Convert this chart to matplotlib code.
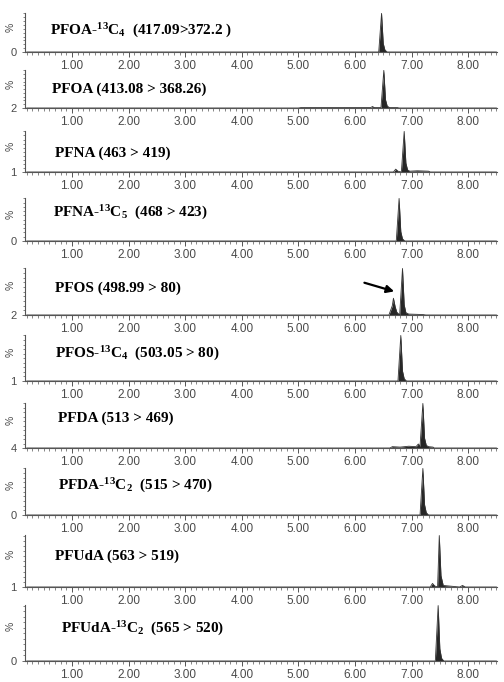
import matplotlib
matplotlib.use('Agg')
import matplotlib.pyplot as plt
from matplotlib.ticker import MultipleLocator

plt.rcParams['font.family'] = ['Liberation Sans', 'DejaVu Sans']
plt.rcParams['mathtext.fontset'] = 'custom'
plt.rcParams['mathtext.rm'] = 'Liberation Serif:bold'
plt.rcParams['mathtext.it'] = 'Liberation Serif:bold'
plt.rcParams['mathtext.bf'] = 'Liberation Serif:bold'

titles = [
    r'PFOA-$^{13}$C$_4$  (417.09>372.2 )',
    'PFOA (413.08 > 368.26)',
    'PFNA (463 > 419)',
    r'PFNA-$^{13}$C$_5$  (468 > 423)',
    'PFOS (498.99 > 80)',
    r'PFOS-$^{13}$C$_4$  (503.05 > 80)',
    'PFDA (513 > 469)',
    r'PFDA-$^{13}$C$_2$  (515 > 470)',
    'PFUdA (563 > 519)',
    r'PFUdA-$^{13}$C$_2$  (565 > 520)',
]
base_labels = ['0', '2', '1', '0', '2', '1', '4', '0', '1', '0']
x_ticks = [1, 2, 3, 4, 5, 6, 7, 8]
x_ticklabels = ['1.00', '2.00', '3.00', '4.00', '5.00', '6.00', '7.00', '8.00']

# retention time (min) and relative intensity (%)
times = [
    [0.2, 6.42, 6.47, 6.50, 6.53, 6.57, 8.5],
    [0.2, 5.0, 5.05, 6.28, 6.31, 6.34, 6.46, 6.51, 6.54, 6.57, 6.61, 6.75, 6.78, 8.5],
    [0.2, 6.68, 6.72, 6.76, 6.82, 6.87, 6.90, 6.93, 6.97, 7.1, 7.3, 7.33, 8.5],
    [0.2, 6.73, 6.78, 6.81, 6.84, 6.88, 8.5],
    [0.2, 6.60, 6.66, 6.68, 6.71, 6.74, 6.79, 6.84, 6.87, 6.90, 6.95, 7.2, 7.25, 8.5],
    [0.2, 6.76, 6.81, 6.84, 6.87, 6.91, 8.5],
    [0.2, 6.62, 6.66, 6.8, 6.95, 7.08, 7.12, 7.15, 7.20, 7.23, 7.26, 7.30, 7.38, 7.4, 8.5],
    [0.2, 7.15, 7.20, 7.23, 7.26, 7.30, 8.5],
    [0.2, 7.33, 7.37, 7.41, 7.46, 7.49, 7.52, 7.56, 7.85, 7.9, 7.95, 8.5],
    [0.2, 7.42, 7.47, 7.50, 7.53, 7.57, 8.5],
]
values = [
    [0, 0, 100, 22, 5, 0, 0],
    [0, 0, 1.2, 1.2, 4, 1.2, 1.2, 100, 22, 5, 1.2, 1.2, 0, 0],
    [0, 0, 7, 2, 0, 100, 22, 5, 2, 3, 2, 0, 0],
    [0, 0, 100, 22, 5, 0, 0],
    [0, 0, 20, 36, 18, 6, 0, 100, 22, 5, 2, 1, 0, 0],
    [0, 0, 100, 22, 5, 0, 0],
    [0, 0, 3, 2, 4, 3, 9, 4, 100, 22, 6, 3, 2, 0, 0],
    [0, 0, 100, 22, 5, 0, 0],
    [0, 0, 7, 2, 0, 100, 22, 3, 0, 3, 0, 0],
    [0, 0, 100, 22, 5, 0, 0],
]

# panel layout in pixels (figure 504 x 682)
W, H = 504, 682
ax_left, ax_right = 25, 497
tops = [13, 70, 131, 198, 268, 335, 403, 468, 535, 605]
bottoms = [52, 108, 172, 241, 315, 381, 448, 515, 587, 661]
label_x = [50, 52, 55, 53, 55, 55, 58, 58, 55, 61]
label_y = [31, 89, 153, 213, 288, 354, 418, 486, 556, 629]

fig = plt.figure(figsize=(W / 100, H / 100), dpi=100)
axis_col = '#555555'
text_col = '#4a4a4a'

for i in range(len(titles)):
    ax = fig.add_axes([ax_left / W, 1 - bottoms[i] / H,
                       (ax_right - ax_left) / W, (bottoms[i] - tops[i]) / H])
    ax.fill_between(times[i], values[i], 0, color='#262626', lw=0)
    ax.plot(times[i], values[i], color='#333333', lw=0.6)
    ax.set_xlim(0.17, 8.51)
    ax.set_ylim(0, 101)
    for s in ['top', 'right']:
        ax.spines[s].set_visible(False)
    for s in ['left', 'bottom']:
        ax.spines[s].set_color(axis_col)
        ax.spines[s].set_linewidth(0.8)
    ax.set_xticks(x_ticks)
    ax.set_xticklabels(x_ticklabels)
    ax.xaxis.set_minor_locator(MultipleLocator(0.1))
    ax.set_yticks([0])
    ax.set_yticklabels([base_labels[i]])
    ax.yaxis.set_minor_locator(MultipleLocator(10))
    ax.tick_params(axis='x', which='major', length=3.5, width=0.7, color=axis_col,
                   labelsize=8.5, labelcolor=text_col, pad=2)
    ax.tick_params(axis='x', which='minor', length=2, width=0.5, color=axis_col)
    ax.tick_params(axis='y', which='major', length=2, width=0.6, color=axis_col,
                   labelsize=8, labelcolor=text_col, pad=4)
    ax.tick_params(axis='y', which='minor', length=1.5, width=0.5, color=axis_col)
    ax.text(-0.03, 0.62, '%', transform=ax.transAxes, rotation=90,
            fontsize=7.5, color=text_col, ha='center', va='center')
    ax.patch.set_alpha(0)
    fig.text(label_x[i] / W, 1 - label_y[i] / H, titles[i], fontsize=11,
             fontweight='bold', family='Liberation Serif', ha='left', va='center')
    if i == 4:
        # arrow pointing at the PFOS peak
        ax.annotate('', xy=(6.74, 49), xytext=(6.12, 71),
                    arrowprops=dict(arrowstyle='-|>', color='black', lw=1.6,
                                    mutation_scale=11))

fig.savefig('out.png', dpi=100)
